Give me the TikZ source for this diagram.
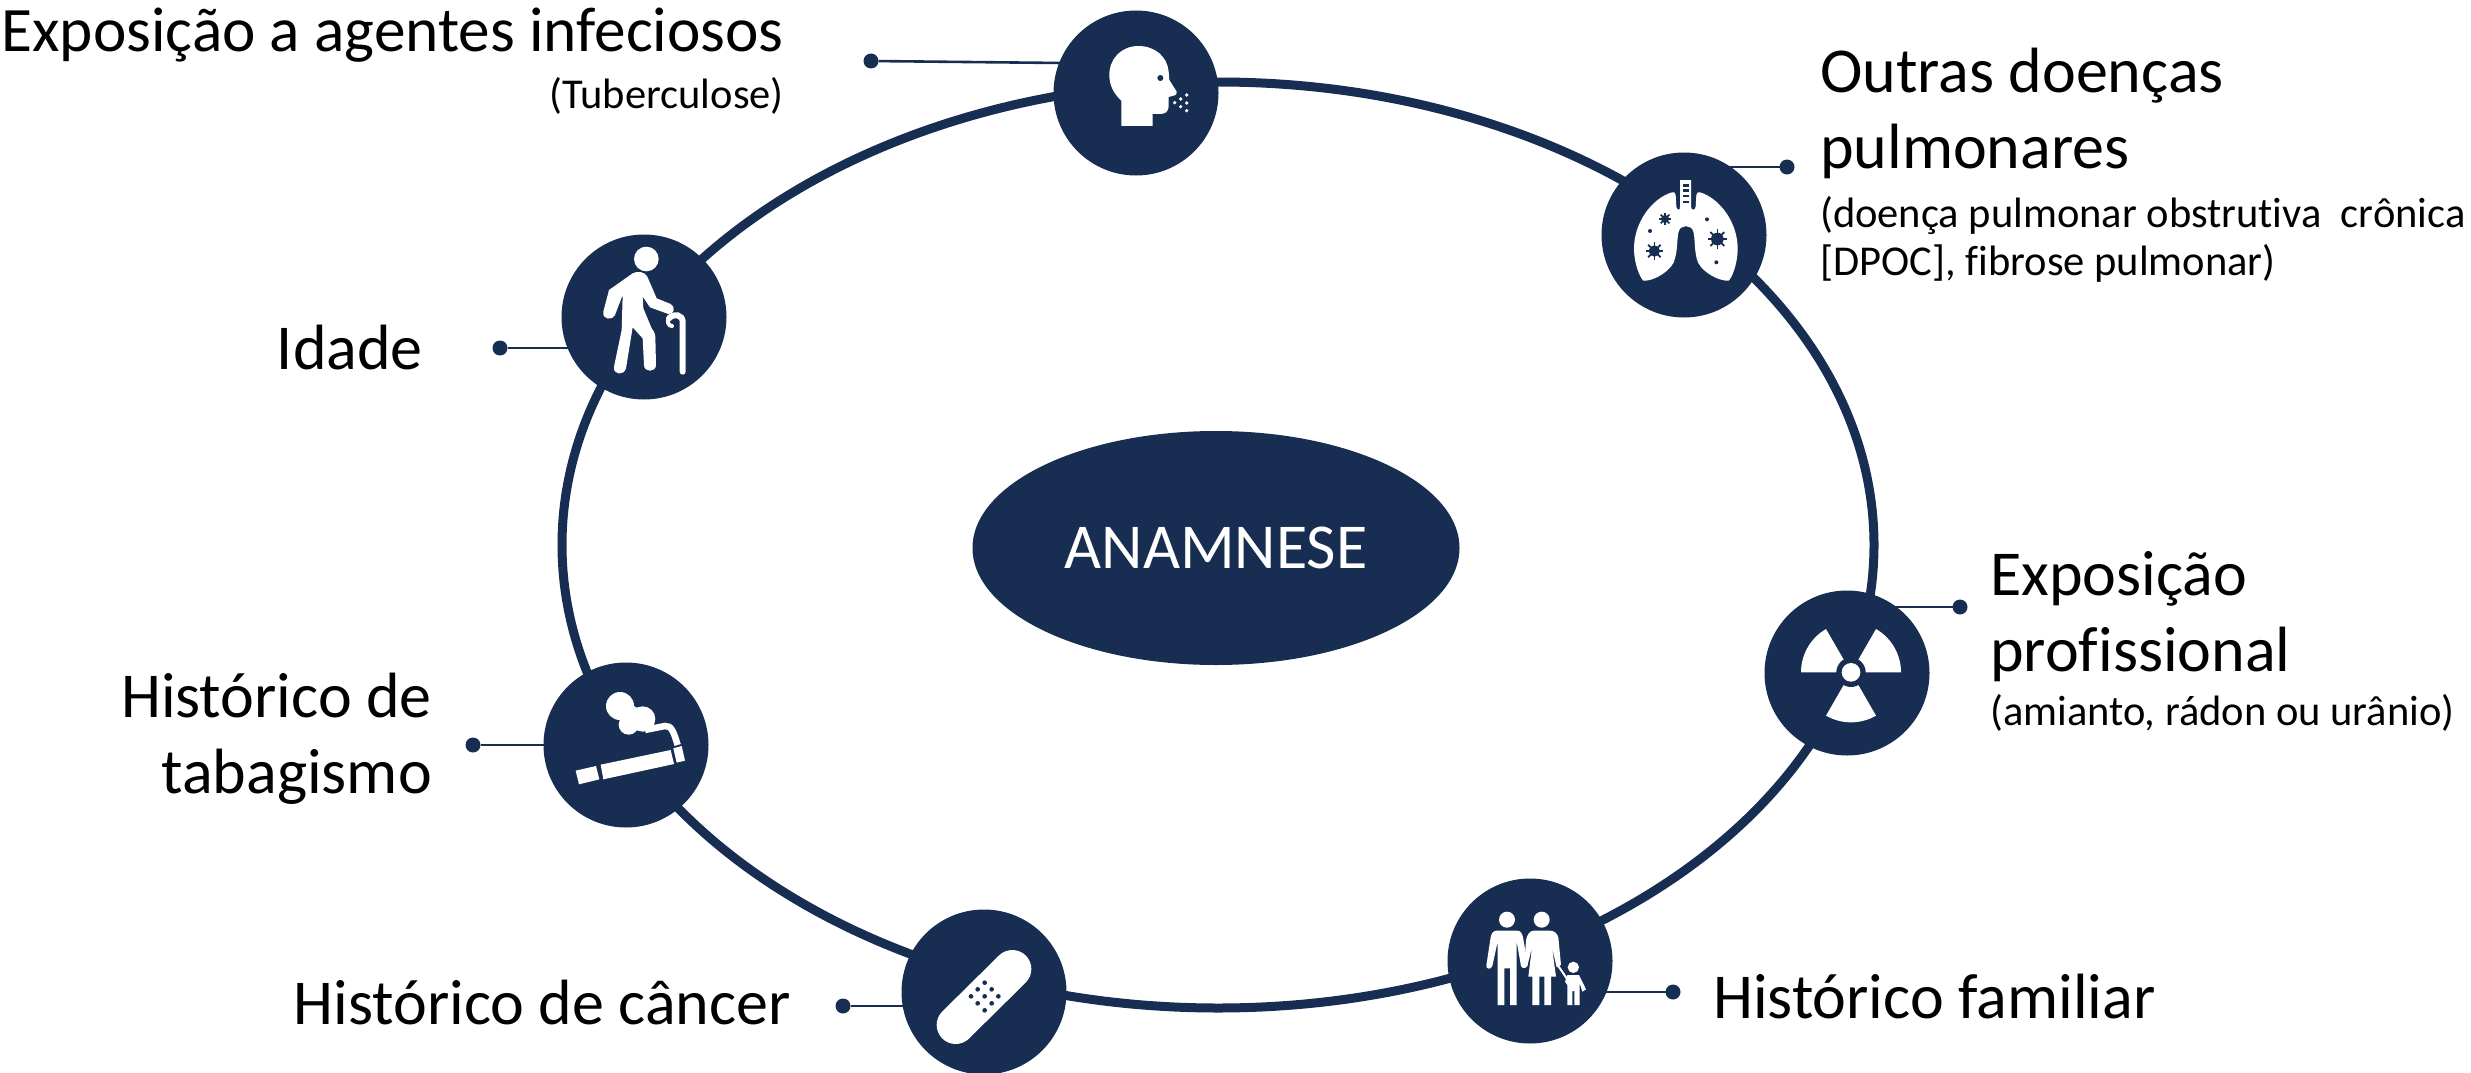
\documentclass[tikz,border=0pt]{standalone}
\usepackage{fontspec}
\setmainfont[Ligatures=NoCommon]{Carlito}
\usetikzlibrary{shapes.geometric}
\definecolor{navy}{HTML}{172D52}
\newcommand{\bigfont}{\fontsize{64}{76}\selectfont}
\newcommand{\smallfont}{\fontsize{42.5}{48}\selectfont}
\newcommand{\virusmark}[3]{%
  \fill[navy] (#1,#2) circle[radius=#3];
  \foreach \a in {0,45,...,315}{\draw[navy,line width=1.7pt] (#1,#2) -- ++(\a:#3*1.55);}%
}
\tikzset{
  ring/.style={draw=navy,line width=9pt,ellipse,inner sep=0pt,outer sep=0pt,minimum width=1312pt,minimum height=926pt},
  hub/.style={fill=navy,ellipse,inner sep=0pt,outer sep=0pt,minimum width=487pt,minimum height=234pt,text=white,font=\fontsize{64}{72}\selectfont},
  badge/.style={fill=navy,circle,inner sep=0pt,outer sep=0pt,minimum size=165pt},
  enddot/.style={fill=navy,circle,inner sep=0pt,outer sep=0pt,minimum size=15pt},
  leader/.style={draw=navy,line width=2.6pt},
  bigl/.style={font=\bigfont,inner sep=0pt,text=black,align=left,anchor=base west},
  bigr/.style={font=\bigfont,inner sep=0pt,text=black,align=right,anchor=base east},
  smalll/.style={font=\smallfont,inner sep=0pt,text=black,align=left,anchor=base west},
  smallr/.style={font=\smallfont,inner sep=0pt,text=black,align=right,anchor=base east},
  zoomed/.style 2 args={shift={(#1,#2)},x=0.33333pt,y=-0.33333pt},
  ink/.style={fill=white,draw=none}
}
\begin{document}
\begin{tikzpicture}[x=1pt,y=-1pt]
\useasboundingbox (0,0) rectangle (2471,1073);
\node[ring] (ringpath) at (1218,545) {};
\node[hub] (hub) at (1216,548) {ANAMNESE};
% end dots
\node[enddot] (d1) at (871,61) {};
\node[enddot] (d2) at (1787,167) {};
\node[enddot] (d3) at (1960,607) {};
\node[enddot] (d4) at (1673,992) {};
\node[enddot] (d5) at (843,1006) {};
\node[enddot] (d6) at (473,745) {};
\node[enddot] (d7) at (500,348) {};
% badge anchors
\coordinate (p1) at (1136,93);
\coordinate (e1) at (1062,63);
\coordinate (p2) at (1684,235);
\coordinate (p3) at (1847,673);
\coordinate (p4) at (1530,961);
\coordinate (p5) at (984,992);
\coordinate (p6) at (626,745);
\coordinate (p7) at (644,317);
% leaders
\draw[leader] (d1) -- (e1);
\draw[leader] (d2) -- (d2 -| p2);
\draw[leader] (d3) -- (d3 -| p3);
\draw[leader] (d4) -- (d4 -| p4);
\draw[leader] (d5) -- (d5 -| p5);
\draw[leader] (d6) -- (d6 -| p6);
\draw[leader] (d7) -- (d7 -| p7);
% badges
\node[badge] (c1) at (p1) {};
\node[badge] (c2) at (p2) {};
\node[badge] (c3) at (p3) {};
\node[badge] (c4) at (p4) {};
\node[badge] (c5) at (p5) {};
\node[badge] (c6) at (p6) {};
\node[badge] (c7) at (p7) {};
% head icon
\begin{scope}[zoomed={1030}{0}]
\fill[ink] (274,378) -- (274,302) .. controls (250,280) and (238,255) .. (238,225) .. controls (238,175) and (275,138) .. (325,138) .. controls (375,138) and (412,170) .. (416,215) -- (418,240) -- (440,275) .. controls (441,283) and (438,285) .. (434,286) -- (416,291) -- (416,320) .. controls (415,335) and (405,342) .. (390,342) -- (368,342) -- (368,378) -- cycle;
\fill[navy] (391,234) circle[radius=9];
\foreach \px/\py in {470/285,452/297,470/309,434/308,452/320,470/332}{\fill[white] (\px,\py) circle[radius=5.5];}
\end{scope}
% lungs icon
\begin{scope}[zoomed={1590}{130}]
\fill[ink] (270,150) -- (303,150) -- (303,230) .. controls (303,242) and (316,242) .. (317,230) -- (319,195) .. controls (320,187) and (325,185) .. (330,187) .. controls (390,205) and (445,280) .. (443,360) .. controls (442,400) and (428,440) .. (416,452) .. controls (385,455) and (325,420) .. (320,385) .. controls (313,360) and (315,320) .. (310,305) .. controls (305,283) and (271,283) .. (266,305) .. controls (261,320) and (263,360) .. (255,385) .. controls (250,420) and (190,455) .. (160,452) .. controls (148,440) and (133,400) .. (132,360) .. controls (130,280) and (185,205) .. (246,187) .. controls (251,185) and (256,187) .. (257,195) -- (259,230) .. controls (260,242) and (272,242) .. (270,230) -- cycle;
\foreach \ry in {163,178,194,212}{\fill[navy] (279,\ry) rectangle (296,\ry+8);}
\virusmark{225}{267}{12}
\virusmark{193}{363}{17}
\virusmark{382}{327}{19}
\foreach \px/\py in {180/303,351/268,379/397}{\fill[navy] (\px,\py) circle[radius=6];}
\end{scope}
% radiation icon
\begin{scope}[zoomed={1750}{570}]
\fill[ink] (303,307) -- ++(-60:150) arc[start angle=-60,end angle=0,radius=150] -- cycle;
\fill[ink] (303,307) -- ++(-180:150) arc[start angle=-180,end angle=-120,radius=150] -- cycle;
\fill[ink] (303,307) -- ++(60:150) arc[start angle=60,end angle=120,radius=150] -- cycle;
\fill[navy] (303,307) circle[radius=44];
\fill[white] (303,307) circle[radius=28];
\end{scope}
% family icon
\begin{scope}[zoomed={1430}{860}]
\fill[white] (231,179) circle[radius=24];
\fill[white] (335,179) circle[radius=24];
\fill[white] (430,322) circle[radius=17];
\fill[ink] (200,212) -- (262,212) .. controls (272,212) and (277,222) .. (279,232) -- (293,312) .. controls (294,326) and (276,328) .. (273,318) -- (260,245) -- (260,435) -- (240,435) -- (240,325) -- (223,325) -- (223,435) -- (203,435) -- (203,245) -- (187,318) .. controls (183,330) and (167,328) .. (169,316) -- (182,232) .. controls (184,220) and (190,212) .. (200,212) -- cycle;
\fill[ink] (312,212) -- (360,212) .. controls (372,212) and (382,220) .. (385,232) -- (393,315) -- (380,322) -- (366,262) -- (378,350) -- (363,350) -- (363,435) -- (343,435) -- (343,350) -- (328,350) -- (328,435) -- (307,435) -- (307,350) -- (295,350) -- (306,262) -- (292,318) -- (283,318) -- (288,240) .. controls (292,222) and (300,212) .. (312,212) -- cycle;
\fill[ink] (412,345) -- (447,345) -- (468,388) -- (457,395) -- (449,370) -- (449,435) -- (433,435) -- (433,393) -- (427,393) -- (427,435) -- (412,435) -- (412,375) -- (405,365) -- cycle;
\draw[white,line width=2pt] (385,318) -- (412,358);
\end{scope}
% bandage icon
\begin{scope}[zoomed={890}{900}]
\draw[white,line width=38pt,line cap=round] (197,375) -- (367,207);
\foreach \px/\py in {284/248,263/268,305/268,243/289,284/289,325/289,263/310,305/310,284/331}{\fill[navy] (\px,\py) circle[radius=7];}
\end{scope}
% cigarette icon
\begin{scope}[zoomed={530}{650}]
\fill[ink] (137,362) -- (198,348) -- (208,388) -- (147,403) -- cycle;
\fill[ink] (212,344) -- (422,300) -- (432,342) -- (220,388) -- cycle;
\fill[ink] (430,295) -- (455,288) -- (465,332) -- (440,338) -- cycle;
\fill[white] (270,168) circle[radius=42];
\fill[white] (338,207) circle[radius=38];
\fill[white] (296,224) circle[radius=30];
\fill[white] (300,195) circle[radius=30];
\draw[white,line width=6.5pt] (345,240) -- (405,228) .. controls (425,225) and (432,250) .. (443,285);
\end{scope}
% elderly icon
\begin{scope}[zoomed={550}{220}]
\fill[white] (289,117) circle[radius=37];
\fill[ink] (248,160) .. controls (262,152) and (285,155) .. (292,170) -- (320,235) -- (362,252) .. controls (378,260) and (372,285) .. (355,282) -- (300,262) -- (278,230) -- (280,265) -- (305,325) .. controls (312,335) and (316,340) .. (316,350) -- (318,435) .. controls (318,458) and (282,458) .. (282,435) -- (278,355) -- (248,322) -- (228,445) .. controls (222,468) and (188,465) .. (192,440) -- (215,330) -- (218,225) -- (195,285) .. controls (188,302) and (155,300) .. (160,275) -- (177,210) -- cycle;
\draw[white,line width=6pt,line cap=round] (398,455) -- (398,305) .. controls (398,285) and (372,278) .. (357,295);
\draw[white,line width=4pt,line cap=round] (357,295) .. controls (350,305) and (355,318) .. (366,318);
\end{scope}
% labels
\node[bigr,font=\fontsize{63.3}{76}\selectfont] (t1) at (784,52) {Exposição a agentes infeciosos};
\node[smallr] (t1b) at (784,108) {(Tuberculose)};
\node[bigl] (t2) at (1820,168) {Outras doenças\\pulmonares};
\node[smalll] (t2b) at (1820,275) {(doença pulmonar obstrutiva\ \ crônica\\{[}DPOC], fibrose pulmonar)};
\node[bigl] (t3) at (1990,671) {Exposição\\profissional};
\node[smalll] (t3b) at (1990,725) {(amianto, rádon ou urânio)};
\node[bigl] (t4) at (1713,1018) {Histórico familiar};
\node[bigr] (t5) at (791,1024) {Histórico de câncer};
\node[bigr] (t6) at (432,793) {Histórico de\\tabagismo};
\node[bigr] (t7) at (423,369) {Idade};
\end{tikzpicture}
\end{document}
